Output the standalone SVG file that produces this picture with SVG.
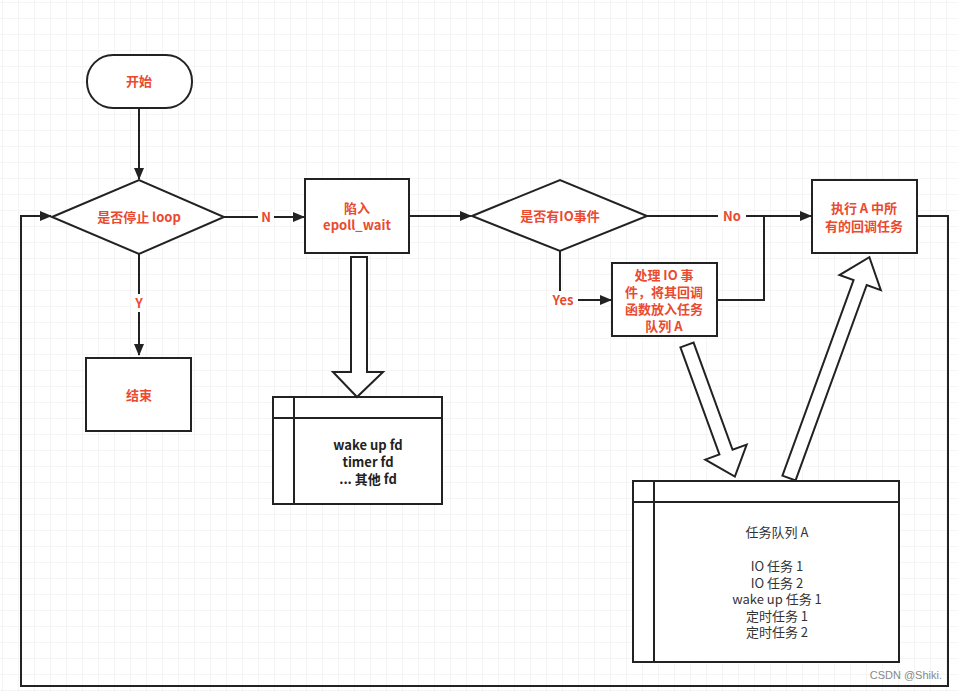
<svg xmlns="http://www.w3.org/2000/svg" width="958" height="692" viewBox="0 0 958 692">
<defs>
<pattern id="grid" width="16" height="16" patternUnits="userSpaceOnUse" x="2" y="2">
<path d="M16 0H0V16" fill="none" stroke="#ebebeb" stroke-width="1"/>
</pattern>
<marker id="arr" markerWidth="12" markerHeight="10" refX="11" refY="5" orient="auto" markerUnits="userSpaceOnUse">
<path d="M0,0 L12,5 L0,10 Z" fill="#222"/>
</marker>
<style>
.box{fill:#fff;stroke:#222;stroke-width:2}
.ln{fill:none;stroke:#222;stroke-width:2}
.red{font-family:"Noto Sans CJK SC","Liberation Sans",sans-serif;font-weight:bold;font-size:13px;fill:#ea4a30;text-anchor:middle}
.blk{font-family:"Noto Sans CJK SC","Liberation Sans",sans-serif;font-weight:bold;font-size:13px;fill:#222;text-anchor:middle}
.reg{font-family:"Noto Sans CJK SC","Liberation Sans",sans-serif;font-size:13px;fill:#333;text-anchor:middle}
.lbl{fill:#fff}
.hollow{fill:#fff;stroke:#222;stroke-width:2;stroke-linejoin:miter}
</style>
</defs>
<rect width="958" height="692" fill="#fff"/>
<rect width="958" height="692" fill="url(#grid)"/>

<g id="connectors">
<line class="ln" x1="139" y1="108" x2="139" y2="179" marker-end="url(#arr)"/>
<line class="ln" x1="224" y1="217" x2="304" y2="217" marker-end="url(#arr)"/>
<rect class="lbl" x="258" y="208" width="16" height="18"/>
<text class="red" x="266" y="222">N</text>
<line class="ln" x1="139" y1="254" x2="139" y2="355" marker-end="url(#arr)"/>
<rect class="lbl" x="132" y="294" width="14" height="18"/>
<text class="red" x="139" y="308">Y</text>
<line class="ln" x1="409" y1="216" x2="471" y2="216" marker-end="url(#arr)"/>
<polyline class="ln" points="647,216 764,216 811,216" marker-end="url(#arr)"/>
<rect class="lbl" x="718" y="207" width="28" height="18"/>
<text class="red" x="732" y="221">No</text>
<polyline class="ln" points="560,251 560,300 611,300" marker-end="url(#arr)"/>
<rect class="lbl" x="548" y="291" width="30" height="18"/>
<text class="red" x="563" y="305">Yes</text>
<polyline class="ln" points="717,300 764,300 764,216"/>
<polyline class="ln" points="917,216 948,216 948,686 21,686 21,216 51,216" marker-end="url(#arr)"/>
</g>

<g id="start">
<rect class="box" x="87" y="55" width="105" height="53" rx="26" ry="26"/>
<text class="red" x="139" y="86">开始</text>
</g>

<g id="stop-decision">
<polygon class="box" points="52,217 139,180 224,217 139,254"/>
<text class="red" x="139" y="222">是否停止 loop</text>
</g>

<g id="end">
<rect class="box" x="86" y="358" width="105" height="73"/>
<text class="red" x="139" y="400">结束</text>
</g>

<g id="epoll">
<rect class="box" x="305" y="179" width="104" height="74"/>
<text class="red" x="357" y="213"><tspan x="357">陷入</tspan><tspan x="357" dy="17">epoll_wait</tspan></text>
</g>

<g id="io-decision">
<polygon class="box" points="472,216 560,180 647,216 560,251"/>
<text class="red" x="560" y="221">是否有IO事件</text>
</g>

<g id="handle-io">
<rect class="box" x="612" y="263" width="105" height="73"/>
<text class="red" x="664" y="280"><tspan x="664">处理 IO 事</tspan><tspan x="664" dy="17">件，将其回调</tspan><tspan x="664" dy="17">函数放入任务</tspan><tspan x="664" dy="17">队列 A</tspan></text>
</g>

<g id="exec-tasks">
<rect class="box" x="812" y="180" width="105" height="73"/>
<text class="red" x="864" y="213"><tspan x="864">执行 A 中所</tspan><tspan x="864" dy="18">有的回调任务</tspan></text>
</g>

<g id="fd-list">
<rect class="box" x="273" y="397" width="169" height="107"/>
<line class="ln" x1="273" y1="418" x2="442" y2="418"/>
<line class="ln" x1="294" y1="397" x2="294" y2="504"/>
<text class="blk" x="368" y="450"><tspan x="368">wake up fd</tspan><tspan x="368" dy="17">timer fd</tspan><tspan x="368" dy="17">... 其他 fd</tspan></text>
</g>

<g id="task-queue">
<rect class="box" x="633" y="481" width="266" height="181"/>
<line class="ln" x1="633" y1="502" x2="899" y2="502"/>
<line class="ln" x1="654" y1="481" x2="654" y2="662"/>
<text class="reg" x="777" y="537"><tspan x="777">任务队列 A</tspan><tspan x="777" dy="34">IO 任务 1</tspan><tspan x="777" dy="16.5">IO 任务 2</tspan><tspan x="777" dy="16.5">wake up 任务 1</tspan><tspan x="777" dy="16.5">定时任务 1</tspan><tspan x="777" dy="16.5">定时任务 2</tspan></text>
</g>

<g id="big-arrows">
<polygon class="hollow" points="351,257 367,257 367,372 383,372 357,397 333,372 351,372"/>
<g transform="translate(687,345) rotate(-20)">
<polygon class="hollow" points="-7,0 7,0 7,114 22,114 0,140 -22,114 -7,114"/>
</g>
<g transform="translate(789,478) rotate(20)">
<polygon class="hollow" points="-7,0 7,0 7,-208 22,-208 0,-235 -22,-208 -7,-208"/>
</g>
</g>

<text x="942" y="679" font-family="Liberation Sans, sans-serif" font-size="11" fill="#888" text-anchor="end">CSDN @Shiki.</text>
</svg>
